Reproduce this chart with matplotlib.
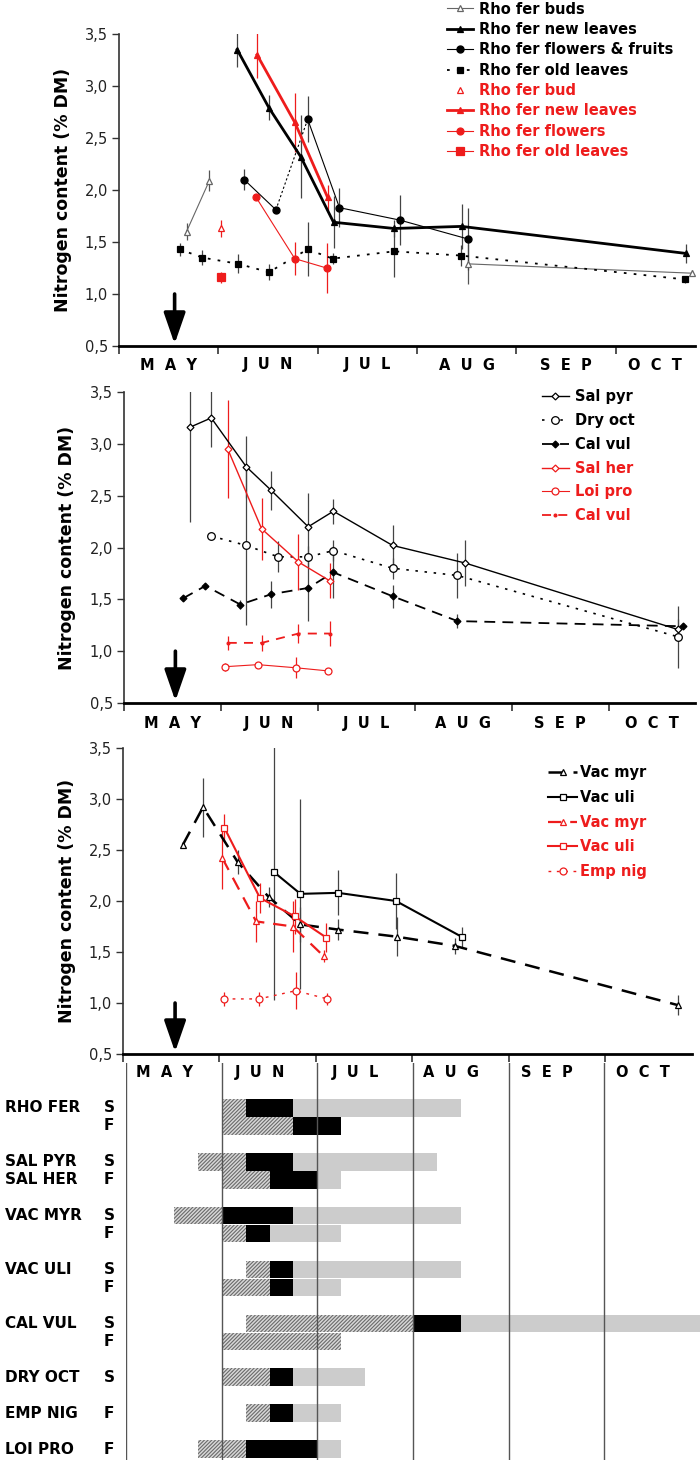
import numpy as np
import matplotlib.pyplot as plt
from matplotlib.ticker import FixedLocator

RED = '#ee1c1c'
DARK = '#333333'
plt.rcParams['hatch.linewidth'] = 0.8

months = ['M  A  Y', 'J  U  N', 'J  U  L', 'A  U  G', 'S  E  P', 'O  C  T']
y_ticks = [0.5, 1.0, 1.5, 2.0, 2.5, 3.0, 3.5]
y_labels = ['0,5', '1,0', '1,5', '2,0', '2,5', '3,0', '3,5']
snowmelt = [0.56, 0.53, 0.54]  # arrow, months since 1 May

# ---- panel 1: Rho fer (x = months since 1 May) ----
buds_x = [0.68, 0.91, np.nan, 3.51, 5.77]
buds_y = [1.60, 2.09, np.nan, 1.29, 1.20]
buds_e = [0.08, 0.10, np.nan, 0.19, 0.03]
new_x = [1.19, 1.51, 1.83, 2.16, 2.77, 3.45, 5.71]
new_y = [3.35, 2.79, 2.32, 1.69, 1.63, 1.65, 1.39]
new_e = [0.17, 0.12, 0.40, 0.25, 0.08, 0.22, 0.09]
ff_x = [1.26, 1.58, 1.90, 2.22, 2.83, 3.51]
ff_y = [2.10, 1.81, 2.68, 1.83, 1.71, 1.53]
ff_e = [0.10, 0.03, 0.22, 0.19, 0.24, 0.30]
old_x = [0.61, 0.84, 1.20, 1.51, 1.90, 2.15, 2.77, 3.44, 5.70]
old_y = [1.43, 1.35, 1.29, 1.21, 1.43, 1.34, 1.41, 1.37, 1.14]
old_e = [0.06, 0.07, 0.09, 0.08, 0.26, 0.05, 0.25, 0.10, 0.03]
rbud_x, rbud_y, rbud_e = [1.03], [1.63], [0.08]
rnew_x = [1.39, 1.77, 2.10]
rnew_y = [3.30, 2.65, 1.93]
rnew_e = [0.22, 0.28, 0.12]
rfl_x = [1.38, 1.77, 2.09]
rfl_y = [1.93, 1.34, 1.25]
rfl_e = [0.03, 0.16, 0.24]
rold_x, rold_y, rold_e = [1.03], [1.16], [0.05]

# ---- panel 2 ----
salpyr_x = [0.68, 0.90, 1.26, 1.52, 1.90, 2.16, 2.77, 3.52, 5.71]
salpyr_y = [3.16, 3.25, 2.78, 2.55, 2.20, 2.35, 2.02, 1.85, 1.21]
salpyr_e = [0.91, 0.28, 0.30, 0.19, 0.33, 0.12, 0.20, 0.22, 0.10]
dryoct_x = [0.90, 1.26, 1.59, 1.90, 2.16, 2.77, 3.44, 5.71]
dryoct_y = [2.11, 2.02, 1.91, 1.91, 1.97, 1.80, 1.73, 1.14]
dryoct_e = [0.02, 0.77, 0.15, 0.10, 0.10, 0.10, 0.22, 0.30]
calvul_x = [0.61, 0.84, 1.20, 1.52, 1.90, 2.16, 2.77, 3.44, 5.77]
calvul_y = [1.51, 1.63, 1.45, 1.55, 1.61, 1.76, 1.53, 1.29, 1.24]
calvul_e = [0.02, 0.02, 0.04, 0.13, 0.32, 0.25, 0.11, 0.07, 0.03]
salher_x = [1.07, 1.42, 1.80, 2.12]
salher_y = [2.95, 2.18, 1.86, 1.68]
salher_e = [0.47, 0.30, 0.27, 0.17]
loipro_x = [1.04, 1.38, 1.77, 2.10]
loipro_y = [0.85, 0.87, 0.84, 0.81]
loipro_e = [0.04, 0.02, 0.10, 0.02]
rcalvul_x = [1.07, 1.42, 1.80, 2.12]
rcalvul_y = [1.08, 1.08, 1.17, 1.17]
rcalvul_e = [0.07, 0.08, 0.09, 0.12]

# ---- panel 3 ----
vacmyr_x = [0.62, 0.83, 1.19, 1.51, 1.84, 2.23, 2.84, 3.44, 5.75]
vacmyr_y = [2.55, 2.92, 2.38, 2.04, 1.77, 1.72, 1.65, 1.56, 0.98]
vacmyr_e = [0.02, 0.29, 0.12, 0.10, 0.17, 0.10, 0.19, 0.08, 0.10]
vaculi_x = [1.57, 1.84, 2.23, 2.83, 3.51]
vaculi_y = [2.28, 2.07, 2.08, 2.00, 1.65]
vaculi_e = [1.25, 0.93, 0.22, 0.27, 0.10]
rvacmyr_x = [1.03, 1.38, 1.76, 2.08]
rvacmyr_y = [2.42, 1.80, 1.75, 1.46]
rvacmyr_e = [0.30, 0.20, 0.25, 0.06]
rvaculi_x = [1.05, 1.42, 1.78, 2.11]
rvaculi_y = [2.72, 2.03, 1.85, 1.64]
rvaculi_e = [0.13, 0.15, 0.17, 0.14]
empnig_x = [1.05, 1.41, 1.79, 2.12]
empnig_y = [1.04, 1.04, 1.12, 1.04]
empnig_e = [0.07, 0.07, 0.18, 0.06]

# ---- phenology (months since 1 May, quarter-month steps) ----
pheno_name = ['RHO FER', '', 'SAL PYR', 'SAL HER', 'VAC MYR', '', 'VAC ULI', '',
              'CAL VUL', '', 'DRY OCT', 'EMP NIG', 'LOI PRO']
pheno_code = ['S', 'F', 'S', 'F', 'S', 'F', 'S', 'F', 'S', 'F', 'S', 'F', 'F']
pheno_row = [0, 1, 3, 4, 6, 7, 9, 10, 12, 13, 15, 17, 19]
hatch_from = [1.0, 1.0, 0.75, 1.0, 0.5, 1.0, 1.25, 1.0, 1.25, 1.0, 1.0, 1.25, 0.75]
hatch_to = [1.25, 1.75, 1.25, 1.5, 1.0, 1.25, 1.5, 1.5, 3.0, 2.25, 1.5, 1.5, 1.25]
black_from = [1.25, 1.75, 1.25, 1.5, 1.0, 1.25, 1.5, 1.5, 3.0, np.nan, 1.5, 1.5, 1.25]
black_to = [1.75, 2.25, 1.75, 2.0, 1.75, 1.5, 1.75, 1.75, 3.5, np.nan, 1.75, 1.75, 2.0]
grey_from = [1.75, np.nan, 1.75, 2.0, 1.75, 1.5, 1.75, 1.75, 3.5, np.nan, 1.75, 1.75, 2.0]
grey_to = [3.5, np.nan, 3.25, 2.25, 3.5, 2.25, 3.5, 2.25, 6.0, np.nan, 2.5, 2.25, 2.25]


W, H = 700, 1463
fig = plt.figure(figsize=(7, 14.63), dpi=100)


def px_axes(left, right, top, bottom):
    return fig.add_axes([left / W, 1 - bottom / H, (right - left) / W, (bottom - top) / H])


def setup(ax, xmax, ylab_x, month_y, show_months=True):
    ax.set_xlim(0, xmax)
    ax.set_ylim(0.5, 3.5)
    for s in ['top', 'right']:
        ax.spines[s].set_visible(False)
    ax.spines['left'].set_linewidth(1.2)
    ax.spines['left'].set_color(DARK)
    ax.spines['bottom'].set_linewidth(2)
    ax.yaxis.set_major_locator(FixedLocator(y_ticks))
    ax.set_yticklabels(y_labels)
    ax.set_xticks(range(6))
    ax.tick_params(axis='y', length=5, width=1, color=DARK, labelsize=10.5, labelcolor='#222222', pad=3)
    ax.tick_params(axis='x', length=6, width=1.2, color=DARK, labelbottom=False)
    ax.text(ylab_x, 0.5, 'Nitrogen content (% DM)', transform=ax.transAxes, rotation=90,
            ha='center', va='center', fontsize=12.5, fontweight='bold')
    if show_months:
        for i, m in enumerate(months):
            c = (i + min(i + 1, xmax)) / 2
            ax.text(c, month_y, m, transform=ax.get_xaxis_transform(), ha='center', va='center',
                    fontsize=10.5, fontweight='bold')


def arrow(ax, x):
    ax.annotate('', xy=(x, 0.52), xytext=(x, 1.0), annotation_clip=False,
                arrowprops=dict(arrowstyle='-|>,head_length=0.95,head_width=0.33', lw=2.6,
                                color='black', mutation_scale=20, shrinkA=0, shrinkB=0))


def series(ax, x, y, e, color, ls, lw, marker, ms, mfc, label, ecolor=None):
    ax.errorbar(x, y, yerr=e, fmt='none', ecolor=ecolor or color, elinewidth=0.9, zorder=2)
    h, = ax.plot(x, y, color=color, ls=ls, lw=lw, marker=marker, ms=ms, mfc=mfc,
                 mec=color, mew=0.9, label=label, zorder=3)
    return h


def legend(ax, handles, colors, x, y, spacing, hlen, pad):
    leg = ax.legend(handles=handles, loc='upper left', bbox_to_anchor=(x / W, 1 - y / H),
                    bbox_transform=fig.transFigure, frameon=False, borderpad=0,
                    borderaxespad=0, labelspacing=spacing, handlelength=hlen,
                    handletextpad=pad, prop={'weight': 'bold', 'size': 10.5})
    for t, c in zip(leg.get_texts(), colors):
        t.set_color(c)


# ---------------- panel 1 ----------------
ax1 = px_axes(119, 695, 34, 346)
setup(ax1, 5.80, (63 - 119) / 576, -19 / 312)
GR = '#666666'
h1 = series(ax1, buds_x, buds_y, buds_e, GR, '-', 0.8, '^', 5, 'white', 'Rho fer buds', '#555555')
h2 = series(ax1, new_x, new_y, new_e, 'black', '-', 2.0, '^', 5, 'black', 'Rho fer new leaves', '#444444')
ax1.errorbar(ff_x, ff_y, yerr=ff_e, fmt='none', ecolor='#444444', elinewidth=0.9, zorder=2)
h3, = ax1.plot(ff_x[:2], ff_y[:2], color='black', lw=0.8, marker='o', ms=5,
               label='Rho fer flowers & fruits', zorder=3)
ax1.plot(ff_x[1:3], ff_y[1:3], color='black', lw=0.8, ls=(0, (2, 2)), zorder=3)
ax1.plot(ff_x[2:], ff_y[2:], color='black', lw=0.8, marker='o', ms=5, zorder=3)
h4 = series(ax1, old_x, old_y, old_e, 'black', (0, (1.5, 4)), 1.3, 's', 5, 'black', 'Rho fer old leaves', '#444444')
h5 = series(ax1, rbud_x, rbud_y, rbud_e, RED, 'none', 1, '^', 5, 'white', 'Rho fer bud')
h6 = series(ax1, rnew_x, rnew_y, rnew_e, RED, '-', 2.0, '^', 5, RED, 'Rho fer new leaves')
h7 = series(ax1, rfl_x, rfl_y, rfl_e, RED, '-', 0.8, 'o', 5, RED, 'Rho fer flowers')
h8 = series(ax1, rold_x, rold_y, rold_e, RED, '-', 0.8, 's', 6, RED, 'Rho fer old leaves')
arrow(ax1, snowmelt[0])
legend(ax1, [h1, h2, h3, h4, h5, h6, h7, h8], ['black'] * 4 + [RED] * 4,
       447, 1.5, 0.37, 1.8, 0.4)

# ---------------- panel 2 ----------------
ax2 = px_axes(124, 695, 392, 703)
setup(ax2, 5.89, (67 - 124) / 571, -20 / 311)
g1 = series(ax2, salpyr_x, salpyr_y, salpyr_e, 'black', '-', 1.0, 'D', 3.5, 'white', 'Sal pyr', '#444444')
g2 = series(ax2, dryoct_x, dryoct_y, dryoct_e, 'black', (0, (1.5, 4)), 1.2, 'o', 5.5, 'white', 'Dry oct', '#444444')
g3 = series(ax2, calvul_x, calvul_y, calvul_e, 'black', (0, (6, 4)), 1.3, 'D', 3.5, 'black', 'Cal vul', '#444444')
g4 = series(ax2, salher_x, salher_y, salher_e, RED, '-', 1.0, 'D', 3.5, 'white', 'Sal her')
g5 = series(ax2, loipro_x, loipro_y, loipro_e, RED, '-', 0.8, 'o', 5, 'white', 'Loi pro')
g6 = series(ax2, rcalvul_x, rcalvul_y, rcalvul_e, RED, (0, (5, 4)), 1.3, '.', 4, RED, 'Cal vul')
arrow(ax2, snowmelt[1])
legend(ax2, [g1, g2, g3, g4, g5, g6], ['black'] * 3 + [RED] * 3,
       542, 389.5, 0.6, 1.85, 0.4)

# ---------------- panel 3 ----------------
ax3 = px_axes(123, 692, 748, 1054)
setup(ax3, 5.90, (67 - 123) / 569, 0, show_months=False)
k1 = series(ax3, vacmyr_x, vacmyr_y, vacmyr_e, 'black', (0, (6, 4)), 1.8, '^', 5, 'white', 'Vac myr', '#444444')
k2 = series(ax3, vaculi_x, vaculi_y, vaculi_e, 'black', '-', 1.5, 's', 5, 'white', 'Vac uli', '#444444')
k3 = series(ax3, rvacmyr_x, rvacmyr_y, rvacmyr_e, RED, (0, (6, 4)), 1.6, '^', 5, 'white', 'Vac myr')
k4 = series(ax3, rvaculi_x, rvaculi_y, rvaculi_e, RED, '-', 1.5, 's', 5, 'white', 'Vac uli')
k5 = series(ax3, empnig_x, empnig_y, empnig_e, RED, (0, (2, 4)), 1.0, 'o', 5, 'white', 'Emp nig')
arrow(ax3, snowmelt[2])
legend(ax3, [k1, k2, k3, k4, k5], ['black'] * 2 + [RED] * 3,
       548, 765.5, 0.66, 2.0, 0.2)

# ---------------- phenology ----------------
ax4 = px_axes(126, 700, 1063, 1460)
ax4.set_xlim(0, 6)
ax4.set_ylim((1460 - 1108) / 17.95, (1063 - 1108) / 17.95)
ax4.axis('off')
for i, r in enumerate(pheno_row):
    segs = [(hatch_from[i], hatch_to[i], dict(color='#d8d8d8', edgecolor='#6a6a6a', hatch='/////////', lw=0)),
            (black_from[i], black_to[i], dict(color='black', lw=0)),
            (grey_from[i], grey_to[i], dict(color='#cccccc', lw=0))]
    for a, b, kw in segs:
        if np.isnan(a):
            continue
        ax4.barh(r, b - a, left=a, height=0.98, zorder=1, **kw)
    ax4.text(-121 / 574, r, pheno_name[i], transform=ax4.get_yaxis_transform(),
             ha='left', va='center', fontsize=11, fontweight='bold')
    ax4.text(-17 / 574, r, pheno_code[i], transform=ax4.get_yaxis_transform(),
             ha='center', va='center', fontsize=11, fontweight='bold')
for m in range(6):
    ax4.axvline(m, color='#555555', lw=1, zorder=3)
    ax4.text(m + 0.4, -1.95, months[m], ha='center', va='center', fontsize=10.5, fontweight='bold')

fig.savefig('out.png', dpi=100)
